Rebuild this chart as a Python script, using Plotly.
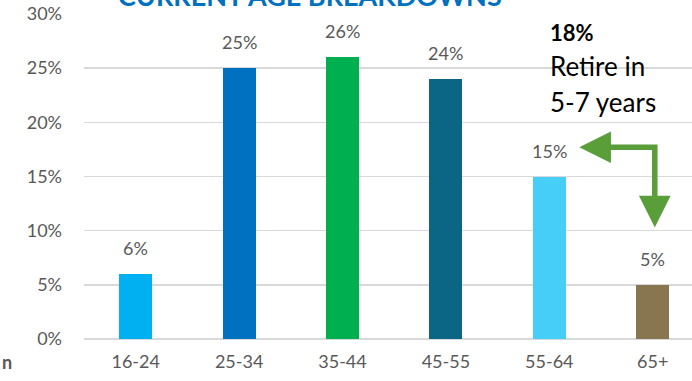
import plotly.graph_objects as go

categories = ["16-24", "25-34", "35-44", "45-55", "55-64", "65+"]
values = [6, 25, 26, 24, 15, 5]
colors = ["#00B0F0", "#0070C0", "#00B050", "#0B6685", "#47CEF7", "#877650"]
y_ticks = [0, 5, 10, 15, 20, 25, 30]
y_tick_labels = [f"{v}%" for v in y_ticks]

FONT = "Lato"
GREY = "#595959"
GREEN = "#5A9E3A"

fig = go.Figure()
fig.add_trace(go.Bar(
    x=list(range(len(categories))), y=values,
    marker=dict(color=colors, line=dict(width=0)),
    width=0.32, hoverinfo="skip",
))

annotations = []
for i, v in enumerate(values):
    annotations.append(dict(x=i, y=v, xref="x", yref="y", text=f"{v}%",
                            showarrow=False, yanchor="middle", yshift=26,
                            font=dict(family=FONT, size=18, color=GREY)))

# title (cut off at top)
annotations.append(dict(x=0.372, y=1.0, xref="paper", yref="paper",
                        text="<b>CURRENT AGE BREAKDOWNS</b>", showarrow=False,
                        xanchor="center", yanchor="bottom",
                        font=dict(family=FONT, size=27, color="#0070C0")))
# side text
TX = 0.7635
annotations.append(dict(x=TX, y=28.3, xref="paper", yref="y", text="<b>18%</b>",
                        showarrow=False, xanchor="left", yanchor="middle",
                        font=dict(family=FONT, size=22, color="#000000")))
annotations.append(dict(x=TX, y=25.2, xref="paper", yref="y", text="Retire in",
                        showarrow=False, xanchor="left", yanchor="middle",
                        font=dict(family=FONT, size=26, color="#000000")))
annotations.append(dict(x=TX, y=21.9, xref="paper", yref="y", text="5-7 years",
                        showarrow=False, xanchor="left", yanchor="middle",
                        font=dict(family=FONT, size=26, color="#000000")))
# "n" at bottom left
annotations.append(dict(x=-84/608, y=-23/325, xref="paper", yref="paper", text="<b>n</b>",
                        showarrow=False, xanchor="left", yanchor="middle",
                        font=dict(family=FONT, size=18, color=GREY)))

# arrow heads
annotations.append(dict(x=4.29, y=17.7, ax=4.6, ay=17.7, xref="x", yref="y",
                        axref="x", ayref="y", text="", showarrow=True,
                        arrowhead=2, arrowsize=1.15, arrowwidth=5.5, arrowcolor=GREEN))
annotations.append(dict(x=5.02, y=10.3, ax=5.02, ay=13.0, xref="x", yref="y",
                        axref="x", ayref="y", text="", showarrow=True,
                        arrowhead=2, arrowsize=1.15, arrowwidth=5.5, arrowcolor=GREEN))

shapes = [dict(type="path", xref="x", yref="y",
               path="M 4.5 17.7 L 5.02 17.7 L 5.02 12.5",
               line=dict(color=GREEN, width=5.5))]

fig.update_layout(
    width=692, height=381,
    margin=dict(l=84, r=0, t=14, b=42),
    paper_bgcolor="white", plot_bgcolor="white",
    showlegend=False, bargap=0,
    annotations=annotations, shapes=shapes,
    xaxis=dict(range=[-0.5, 5.38], tickmode="array",
               tickvals=list(range(len(categories))), ticktext=categories,
               showgrid=False, zeroline=False, showline=False, ticks="",
               tickfont=dict(family=FONT, size=18, color=GREY),
               ticklabelstandoff=10),
    yaxis=dict(range=[0, 30], tickmode="array", tickvals=y_ticks,
               ticktext=y_tick_labels, showgrid=True, gridcolor="#D9D9D9",
               gridwidth=1.5, zeroline=True, zerolinecolor="#D9D9D9",
               zerolinewidth=1.5, showline=False, ticks="",
               tickfont=dict(family=FONT, size=18, color=GREY),
               ticklabelstandoff=21),
)

fig.write_html("out.html", config={"displayModeBar": False, "staticPlot": True},
               post_script="document.body.style.margin='0';document.body.style.overflow='hidden';")
